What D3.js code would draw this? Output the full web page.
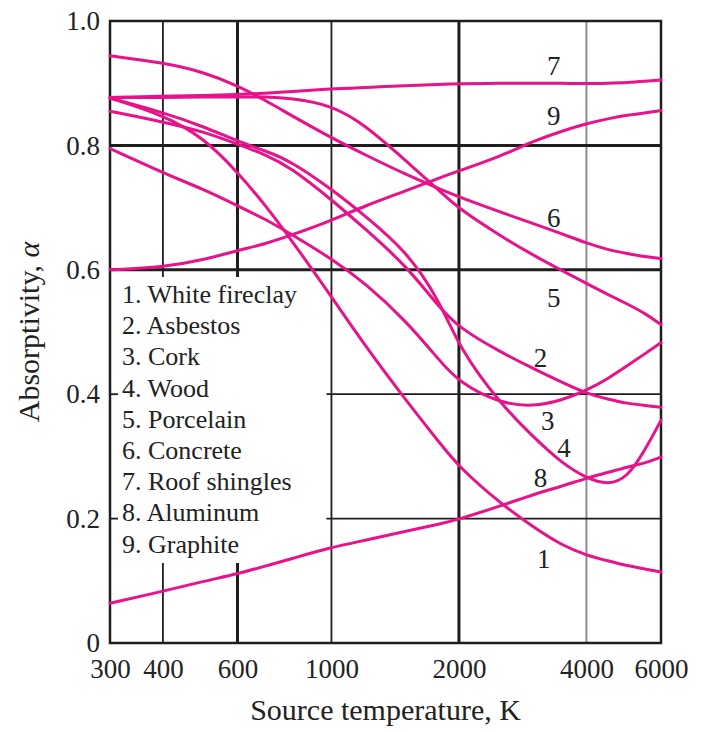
<!DOCTYPE html>
<html>
<head>
<meta charset="utf-8">
<script src="https://cdn.jsdelivr.net/npm/d3@7"></script>
<style>
body {margin:0; background:#fff}
</style>
</head>
<body>
<div id="root"></div>
<script>
// source temperatures the curves were read at, K
const temps = [300,400,500,600,700,800,1000,1200,1500,1800,2000,2500,3000,3500,4000,4500,5000,5500,6000]

// absorptivity of each material, same order as temps
const whiteFireclay = [0.876,0.849,0.812,0.757,0.703,0.650,0.557,0.478,0.390,0.322,0.283,0.225,0.186,0.157,0.141,0.132,0.124,0.119,0.114]
const asbestos      = [0.855,0.838,0.822,0.802,0.785,0.765,0.713,0.666,0.607,0.539,0.507,0.468,0.441,0.419,0.401,0.392,0.385,0.382,0.379]
const cork          = [0.795,0.756,0.729,0.703,0.681,0.658,0.618,0.579,0.518,0.454,0.419,0.385,0.380,0.390,0.406,0.425,0.446,0.465,0.483]
const wood          = [0.876,0.853,0.830,0.807,0.791,0.775,0.730,0.687,0.631,0.551,0.475,0.385,0.331,0.289,0.265,0.254,0.266,0.310,0.358]
const porcelain     = [0.877,0.877,0.878,0.878,0.878,0.876,0.865,0.833,0.775,0.727,0.698,0.655,0.623,0.599,0.578,0.560,0.545,0.530,0.512]
const concrete      = [0.944,0.933,0.918,0.896,0.872,0.849,0.812,0.785,0.753,0.730,0.717,0.693,0.674,0.658,0.643,0.632,0.626,0.621,0.618]
const roofShingles  = [0.877,0.879,0.880,0.882,0.884,0.886,0.891,0.893,0.896,0.898,0.899,0.900,0.900,0.900,0.899,0.900,0.901,0.903,0.905]
const aluminum      = [0.064,0.083,0.0995,0.111,0.124,0.135,0.154,0.165,0.180,0.191,0.199,0.220,0.239,0.252,0.265,0.274,0.283,0.289,0.299]
const graphite      = [0.600,0.604,0.616,0.631,0.642,0.655,0.679,0.703,0.727,0.748,0.759,0.782,0.807,0.823,0.835,0.843,0.849,0.852,0.856]

const materials = ["White fireclay","Asbestos","Cork","Wood","Porcelain","Concrete","Roof shingles","Aluminum","Graphite"]

// where the curve numbers sit, in data units
const labelTemps  = [3170,3116,3240,3541,3350,3350,3350,3116,3350]
const labelValues = [0.136,0.459,0.358,0.315,0.555,0.684,0.928,0.266,0.848]

const xTicks = [300,400,600,1000,2000,4000,6000]
const yTicks = [0,0.2,0.4,0.6,0.8,1.0]

const config = {
    width:701,
    height:732,
    plot:{left:110,right:661,top:21,bottom:643},
    pink:"#e8128a",
    ink:"#1e1e1e",
    text:"#222",
    font:"'Liberation Serif','Times New Roman',serif",
    legend:{x:122,firstBaseline:303,step:31.2,top:277,bottom:563}
}

const series = [whiteFireclay,asbestos,cork,wood,porcelain,concrete,roofShingles,aluminum,graphite]

const svg = d3.select("#root").append("svg")
    .attr("width",config.width)
    .attr("height",config.height)
    .style("display","block")

const x = d3.scaleLog()
    .domain([300,6000])
    .range([config.plot.left,config.plot.right])
const y = d3.scaleLinear()
    .domain([0,1])
    .range([config.plot.bottom,config.plot.top])

//grid, the legend cuts the two left verticals
const vgrid = [
    {t:400,w:1.8,c:config.ink,gap:true},
    {t:600,w:3,c:config.ink,gap:true},
    {t:1000,w:1.8,c:config.ink,gap:false},
    {t:2000,w:3,c:config.ink,gap:false},
    {t:4000,w:2,c:"#8c8c8c",gap:false}
]
const grid = svg.append("g")
vgrid.forEach(g => {
    let spans = g.gap
        ? [[config.plot.top,config.legend.top],[config.legend.bottom,config.plot.bottom]]
        : [[config.plot.top,config.plot.bottom]]
    spans.forEach(s => {
        grid.append("line")
            .attr("x1",x(g.t))
            .attr("x2",x(g.t))
            .attr("y1",s[0])
            .attr("y2",s[1])
            .attr("stroke",g.c)
            .attr("stroke-width",g.w)
    })
})
const hgrid = [
    {a:0.8,w:3,from:config.plot.left},
    {a:0.6,w:3,from:config.plot.left},
    {a:0.4,w:1.8,from:x(1000)-5},
    {a:0.2,w:1.8,from:x(1000)-5}
]
hgrid.forEach(g => {
    grid.append("line")
        .attr("x1",g.from)
        .attr("x2",config.plot.right)
        .attr("y1",y(g.a))
        .attr("y2",y(g.a))
        .attr("stroke",config.ink)
        .attr("stroke-width",g.w)
})
//little ticks on the left edge where the legend sits
;[0.4,0.2].forEach(a => {
    grid.append("line")
        .attr("x1",config.plot.left)
        .attr("x2",config.plot.left+8)
        .attr("y1",y(a))
        .attr("y2",y(a))
        .attr("stroke",config.ink)
        .attr("stroke-width",1.8)
})

svg.append("rect")
    .attr("x",config.plot.left)
    .attr("y",config.plot.top)
    .attr("width",config.plot.right-config.plot.left)
    .attr("height",config.plot.bottom-config.plot.top)
    .attr("fill","none")
    .attr("stroke",config.ink)
    .attr("stroke-width",2.5)

//curves
const line = d3.line()
    .x((d,i) => x(temps[i]))
    .y(d => y(d))
    .curve(d3.curveBasis)
svg.append("g").selectAll("path")
    .data(series)
    .join("path")
    .attr("d",line)
    .attr("fill","none")
    .attr("stroke",config.pink)
    .attr("stroke-width",3)
    .attr("stroke-linecap","round")

//curve numbers
svg.append("g").selectAll("text")
    .data(materials)
    .join("text")
    .attr("x",(d,i) => x(labelTemps[i]))
    .attr("y",(d,i) => y(labelValues[i]))
    .attr("dy","0.35em")
    .attr("text-anchor","middle")
    .attr("font-family",config.font)
    .attr("font-size",27)
    .attr("fill",config.text)
    .text((d,i) => i+1)

//legend
svg.append("g").selectAll("text")
    .data(materials)
    .join("text")
    .attr("x",config.legend.x)
    .attr("y",(d,i) => config.legend.firstBaseline+i*config.legend.step)
    .attr("font-family",config.font)
    .attr("font-size",26)
    .attr("fill",config.text)
    .text((d,i) => (i+1)+". "+d)

//axes, labels only
const xAxis = svg.append("g")
    .attr("transform",`translate(0,${config.plot.bottom})`)
    .call(d3.axisBottom(x).tickValues(xTicks).tickFormat(d3.format("d")).tickSize(0).tickPadding(16))
xAxis.select(".domain").remove()
xAxis.attr("font-family",config.font).attr("font-size",27).attr("color",config.text)

const yAxis = svg.append("g")
    .attr("transform",`translate(${config.plot.left},0)`)
    .call(d3.axisLeft(y).tickValues(yTicks).tickFormat(d => d===0 ? "0" : d3.format(".1f")(d)).tickSize(0).tickPadding(10))
yAxis.select(".domain").remove()
yAxis.attr("font-family",config.font).attr("font-size",27).attr("color",config.text)

svg.append("text")
    .attr("x",(config.plot.left+config.plot.right)/2)
    .attr("y",720)
    .attr("text-anchor","middle")
    .attr("font-family",config.font)
    .attr("font-size",30)
    .attr("fill",config.text)
    .text("Source temperature, K")

const ytitle = svg.append("text")
    .attr("transform","translate(39,332) rotate(-90)")
    .attr("text-anchor","middle")
    .attr("font-family",config.font)
    .attr("font-size",30)
    .attr("fill",config.text)
ytitle.append("tspan").text("Absorptivity, ")
ytitle.append("tspan").attr("font-style","italic").text("α")
</script>
</body>
</html>
